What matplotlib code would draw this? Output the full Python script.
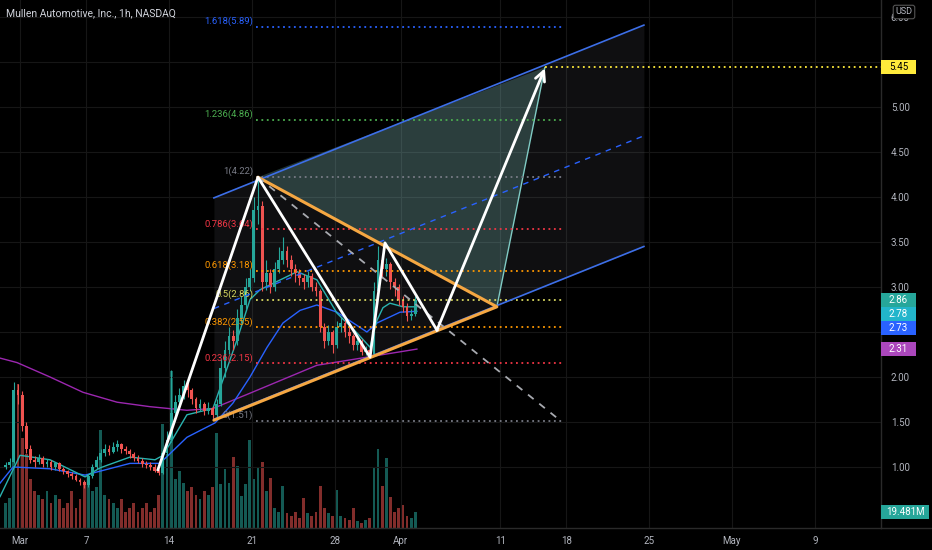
import numpy as np
import matplotlib
matplotlib.use('Agg')
import matplotlib.pyplot as plt
from matplotlib.patches import Rectangle

plt.rcParams['font.family'] = ['Roboto', 'DejaVu Sans']

# Price bars, 4 per trading day, starting Feb 28 (trading day -1) up to Apr 1 (day 23)
first_open = 1.00
closes = [1.02, 1.05, 1.85, 1.80, 1.45, 1.20, 1.08, 1.05, 1.10, 1.03,
          1.06, 1.00, 1.04, 0.98, 0.95, 0.92, 0.90, 0.86, 0.83, 0.80,
          0.90, 1.00, 1.08, 1.15, 1.20, 1.17, 1.22, 1.25, 1.20, 1.18,
          1.14, 1.10, 1.07, 1.03, 1.02, 1.00, 0.96, 0.93, 1.15, 1.30,
          1.60, 1.72, 1.80, 1.90, 1.85, 1.75, 1.65, 1.70, 1.62, 1.66,
          1.58, 1.70, 2.10, 2.30, 2.45, 2.40, 2.65, 2.80, 3.00, 3.10,
          3.85, 3.90, 3.05, 3.15, 3.00, 3.20, 3.30, 3.40, 3.30, 3.20,
          3.15, 3.10, 3.05, 3.12, 3.00, 2.95, 2.55, 2.40, 2.50, 2.35,
          2.55, 2.60, 2.50, 2.45, 2.35, 2.40, 2.28, 2.30, 2.25, 2.95,
          3.30, 3.20, 3.25, 3.05, 3.00, 2.85, 2.78, 2.68, 2.70, 2.86]
highs = [1.06, 1.10, 1.94, 1.92, 1.84, 1.50, 1.24, 1.12, 1.14, 1.12,
         1.09, 1.08, 1.06, 1.05, 1.00, 0.97, 0.94, 0.92, 0.88, 0.86,
         0.92, 1.03, 1.12, 1.20, 1.25, 1.24, 1.28, 1.30, 1.27, 1.23,
         1.20, 1.17, 1.13, 1.10, 1.07, 1.05, 1.03, 0.98, 1.18, 1.40,
         2.08, 1.80, 1.88, 1.97, 1.95, 1.88, 1.78, 1.76, 1.72, 1.72,
         1.68, 1.76, 2.20, 2.40, 2.55, 2.52, 2.75, 2.90, 3.10, 3.20,
         4.00, 4.22, 3.95, 3.30, 3.20, 3.28, 3.44, 3.55, 3.45, 3.35,
         3.25, 3.20, 3.14, 3.18, 3.15, 3.05, 2.98, 2.60, 2.58, 2.52,
         2.62, 2.67, 2.63, 2.55, 2.48, 2.45, 2.42, 2.34, 2.32, 3.05,
         3.46, 3.35, 3.32, 3.28, 3.10, 3.03, 2.90, 2.82, 2.75, 2.90]
lows = [0.98, 1.00, 1.04, 1.70, 1.40, 1.15, 1.04, 1.00, 1.03, 1.00,
        1.00, 0.97, 0.97, 0.95, 0.92, 0.89, 0.87, 0.84, 0.80, 0.77,
        0.78, 0.88, 0.98, 1.05, 1.12, 1.13, 1.15, 1.18, 1.16, 1.14,
        1.10, 1.07, 1.04, 1.00, 0.99, 0.97, 0.94, 0.91, 0.92, 1.12,
        1.28, 1.55, 1.66, 1.75, 1.78, 1.70, 1.60, 1.62, 1.58, 1.59,
        1.52, 1.55, 1.68, 2.00, 2.25, 2.30, 2.35, 2.60, 2.75, 2.95,
        3.05, 3.70, 2.95, 2.97, 2.93, 2.96, 3.15, 3.25, 3.22, 3.12,
        3.05, 3.02, 2.98, 3.00, 2.95, 2.90, 2.50, 2.32, 2.36, 2.27,
        2.32, 2.50, 2.44, 2.38, 2.30, 2.30, 2.24, 2.24, 2.22, 2.24,
        2.90, 3.10, 3.12, 2.98, 2.90, 2.80, 2.72, 2.62, 2.63, 2.68]
volumes = [30, 37, 150, 176, 110, 90, 60, 45, 40, 35,
           45, 30, 40, 35, 25, 30, 45, 25, 35, 55,
           60, 45, 50, 120, 40, 35, 30, 25, 35, 20,
           25, 30, 20, 25, 30, 20, 25, 40, 127, 90,
           191, 60, 70, 55, 45, 50, 40, 35, 45, 40,
           50, 116, 54, 72, 55, 87, 76, 39, 54, 107,
           60, 73, 80, 45, 61, 25, 20, 51, 18, 15,
           20, 12, 37, 18, 15, 20, 51, 25, 18, 15,
           46, 15, 12, 10, 24, 8, 6, 10, 12, 73,
           96, 51, 85, 38, 20, 25, 28, 15, 12, 19.481]

# Moving averages (trading day, price)
ma_fast_days = [-1.21, 0.0, 1.81, 3.93, 4.83, 6.64, 8.15, 8.64, 10.08, 11.65, 13.10,
                13.89, 14.5, 16.73, 17.93, 19.14, 20.35, 21.14, 21.56, 21.92, 22.34, 23.13, 23.97]
ma_fast = [0.67, 1.13, 1.08, 0.89, 0.99, 1.11, 1.08, 1.13, 1.58, 1.65, 2.41,
           2.86, 2.97, 3.17, 3.08, 2.71, 2.49, 2.33, 2.63, 2.77, 2.82, 2.78, 2.78]
ma_mid_days = [-1.21, -0.42, 1.81, 3.93, 6.64, 8.45, 10.08, 11.78, 12.86, 13.89,
               14.92, 15.88, 16.91, 17.93, 19.14, 20.95, 21.56, 22.95, 23.97]
ma_mid = [0.82, 1.00, 0.98, 0.91, 1.04, 1.04, 1.33, 1.49, 1.71, 2.00,
          2.33, 2.60, 2.74, 2.80, 2.72, 2.50, 2.60, 2.72, 2.73]
ma_slow_days = [-1.21, -0.18, 1.81, 3.80, 5.86, 7.85, 10.08, 11.65, 13.89, 17.93, 20.95, 23.97]
ma_slow = [2.21, 2.16, 2.00, 1.83, 1.72, 1.67, 1.63, 1.65, 1.82, 2.13, 2.22, 2.31]

# Fibonacci extension
fib_ratios = ['1.618', '1.236', '1', '0.786', '0.618', '0.5', '0.382', '0.236', '0']
fib_prices = [5.89, 4.86, 4.22, 3.64, 3.18, 2.86, 2.55, 2.15, 1.51]
fib_colors = ['#2962ff', '#4caf50', '#787b86', '#f23645', '#ff9800',
              '#d8d860', '#ff9800', '#f23645', '#787b86']
fib_span = [14.25, 32.73]

# drawings (trading day, price)
zigzag_days = [8.33, 14.37, 21.14, 22.04, 25.18]
zigzag_prices = [0.97, 4.22, 2.22, 3.49, 2.52]
target_day, target_price = 31.70, 5.45
triangle_days = [11.71, 28.80, 14.37]
triangle_prices = [1.52, 2.78, 4.22]
projection_days = [14.37, 31.70, 28.80]
projection_prices = [4.22, 5.44, 2.78]
channel_days = [11.71, 37.68]
channel_upper = [3.99, 5.91]
channel_mid = [2.76, 4.68]
channel_lower = [1.53, 3.45]
dash_days = [14.37, 32.6]
dash_prices = [4.22, 1.52]

tick_days = [0, 4, 9, 14, 19, 23, 29, 33, 38, 43, 48]
tick_labels = ['Mar', '7', '14', '21', '28', 'Apr', '11', '18', '25', 'May', '9']
price_ticks = [1.0, 1.5, 2.0, 2.5, 3.0, 3.5, 4.0, 4.5, 5.0, 5.5, 6.0]
hidden_ticks = [2.5, 5.5]   # covered by the price labels on the chart

UP = '#26a69a'
DOWN = '#ef5350'
TXT = '#b2b5be'

fig = plt.figure(figsize=(9.32, 5.5), dpi=100, facecolor='black')
ax = fig.add_axes([0, 0.04, 881 / 932, 0.96])
axv = ax.twinx()
axv.set_zorder(0)
ax.set_zorder(1)
ax.patch.set_visible(False)
axv.set_facecolor('black')

ax.set_xlim(-1.21, 52.0)
ax.set_ylim(0.322, 6.189)
axv.set_ylim(0, 644)

bar_days = np.arange(len(closes)) * 0.25 - 0.875
opens = [first_open] + closes[:-1]
colors = [UP if c >= o else DOWN for o, c in zip(opens, closes)]

# volume
axv.bar(bar_days, volumes, width=0.17, color=colors, alpha=0.55, linewidth=0)
axv.set_yticks([])
for s in axv.spines.values():
    s.set_visible(False)

# grid
for d in tick_days:
    ax.axvline(d, color='#161616', lw=0.8, zorder=0)
for p in price_ticks:
    ax.axhline(p, color='#161616', lw=0.8, zorder=0)

# channel and projection fills
ax.fill_between(channel_days, channel_lower, channel_upper, color='#787b86', alpha=0.13,
                lw=0, zorder=1)
ax.fill(projection_days, projection_prices, color='#80cbc4', alpha=0.25, lw=0, zorder=1.5)
ax.plot(projection_days[1:] + projection_days[:1], projection_prices[1:] + projection_prices[:1],
        color='#80cbc4', lw=1, zorder=2)

# moving averages
ax.plot(ma_slow_days, ma_slow, color='#9c27b0', lw=1, zorder=3)
ax.plot(ma_mid_days, ma_mid, color='#2962ff', lw=1, zorder=3)
ax.plot(ma_fast_days, ma_fast, color='#2ab3b0', lw=1, zorder=3)

# candles
ax.vlines(bar_days, lows, highs, colors=colors, lw=0.8, zorder=4)
bottoms = [min(o, c) for o, c in zip(opens, closes)]
heights = [max(abs(c - o), 0.01) for o, c in zip(opens, closes)]
ax.bar(bar_days, heights, bottom=bottoms, width=0.17, color=colors, lw=0, zorder=4)

# fib levels
for r, p, c in zip(fib_ratios, fib_prices, fib_colors):
    ax.plot(fib_span, [p, p], color=c, lw=1.3, ls=(0, (1, 2)), zorder=5)
    ax.annotate(f'{r}({p:.2f})', (fib_span[0], p), xytext=(-2, 4), textcoords='offset points',
                ha='right', va='center', fontsize=6.8, color=c, zorder=5)
ax.plot([target_day, 52.0], [target_price, target_price], color='#ffeb3b', lw=1.3,
        ls=(0, (1, 2)), zorder=5)

# channel lines
ax.plot(channel_days, channel_upper, color='#3d6fe8', lw=1.2, zorder=5)
ax.plot(channel_days, channel_lower, color='#3d6fe8', lw=1.2, zorder=5)
ax.plot(channel_days, channel_mid, color='#2962ff', lw=1, ls=(0, (4, 4)), zorder=5)

# triangle
ax.plot(triangle_days, triangle_prices, color='#f5a742', lw=2.2, zorder=6,
        solid_capstyle='round')
# dashed projection down
ax.plot(dash_days, dash_prices, color='#a8aab0', lw=1.3, ls=(0, (4, 4)), zorder=6)

# zigzag path + arrow
ax.plot(zigzag_days, zigzag_prices, color='white', lw=2, zorder=7)
ax.annotate('', xy=(target_day, target_price - 0.02), xytext=(zigzag_days[-1], zigzag_prices[-1]),
            arrowprops=dict(arrowstyle='->,head_length=0.7,head_width=0.35', color='white',
                            lw=2, shrinkA=0, shrinkB=0), zorder=7)

# axes styling
ax.yaxis.tick_right()
ax.set_yticks(price_ticks)
ax.set_yticklabels(['' if p in hidden_ticks else f'{p:.2f}' for p in price_ticks])
ax.set_xticks(tick_days)
ax.set_xticklabels(tick_labels)
ax.tick_params(axis='both', length=0, colors=TXT, labelsize=7)
ax.tick_params(axis='y', pad=7)
ax.tick_params(axis='x', pad=6)
for name, s in ax.spines.items():
    if name in ('right', 'bottom'):
        s.set_color('#2a2a2a')
        s.set_linewidth(1)
    else:
        s.set_visible(False)
fig.add_artist(plt.Line2D([881 / 932, 1], [0.04, 0.04], color='#2a2a2a', lw=1))


# price-axis labels (pixel boxes stuck to the price scale)
def axis_label(a, value, text, face, fg='white', dy=0, width=35):
    y = a.transData.transform((0, value))[1] + dy
    fig.add_artist(Rectangle((881 / 100, (y - 7) / 100), width / 100, 0.14,
                             transform=fig.dpi_scale_trans, fc=face, ec='none', zorder=10))
    fig.text((881 + width / 2) / 932, y / 550, text, fontsize=7, color=fg,
             ha='center', va='center', zorder=11)


fig.canvas.draw()
axis_label(ax, 5.45, '5.45', '#ffeb3b', fg='black')
axis_label(ax, 2.86, '2.86', UP)
axis_label(ax, 2.78, '2.78', '#22b5cb', dy=-7)
axis_label(ax, 2.73, '2.73', '#2962ff', dy=-17)
axis_label(ax, 2.31, '2.31', '#ab47bc')
axis_label(axv, volumes[-1], f'{volumes[-1]:.3f}M', UP, width=48)

fig.text(904 / 932, 1 - 12 / 550, 'USD', fontsize=6.5, color=TXT, ha='center', va='center',
         bbox=dict(boxstyle='round,pad=0.25', fc='black', ec='#555555', lw=0.8), zorder=12)
fig.text(6 / 932, 1 - 13 / 550, 'Mullen Automotive, Inc., 1h, NASDAQ', fontsize=7.5,
         color='#d1d4dc', ha='left', va='center')

fig.savefig('out.png', dpi=100, facecolor='black')
